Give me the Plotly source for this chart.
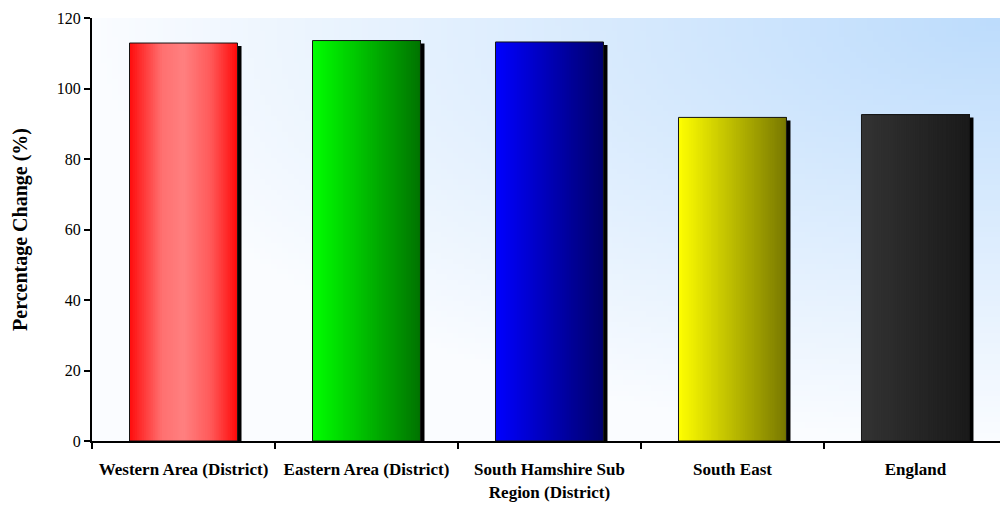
import base64
import struct
import zlib

import plotly.graph_objects as go

# ---- data -------------------------------------------------------------
categories = [
    "Western Area (District)",
    "Eastern Area (District)",
    "South Hamshire Sub<br>Region (District)",
    "South East",
    "England",
]
values = [112.9, 113.6, 113.2, 91.8, 92.6]
y_ticks = [0, 20, 40, 60, 80, 100, 120]

# horizontal colour ramps for each bar (position across bar, colour)
bar_gradients = [
    [(0.0, "#ff0c0c"), (0.3, "#ff7070"), (0.5, "#ff8080"), (0.75, "#ff5a5a"), (1.0, "#ff0a0a")],
    [(0.0, "#00ff00"), (1.0, "#007400")],
    [(0.0, "#0000ff"), (1.0, "#00006c")],
    [(0.0, "#ffff00"), (1.0, "#787800")],
    [(0.0, "#333333"), (1.0, "#1a1a1a")],
]

FONT = "Liberation Serif"
BAR_W = 0.59          # bar width in category units
N_STRIPS = 60         # slices used to paint the gradient
SHADOW_DX = 0.022     # shadow shift to the right (category units)
SHADOW_DY = 0.85      # shadow drop below the bar top (value units)


def hex_rgb(h):
    h = h.lstrip("#")
    return tuple(int(h[i:i + 2], 16) for i in (0, 2, 4))


def ramp(stops, t):
    for (t0, c0), (t1, c1) in zip(stops[:-1], stops[1:]):
        if t <= t1:
            a = 0.0 if t1 == t0 else (t - t0) / (t1 - t0)
            r0, g0, b0 = hex_rgb(c0)
            r1, g1, b1 = hex_rgb(c1)
            return "rgb(%d,%d,%d)" % (
                round(r0 + (r1 - r0) * a),
                round(g0 + (g1 - g0) * a),
                round(b0 + (b1 - b0) * a),
            )
    return stops[-1][1]


def background_png(w=160, h=80):
    """Soft blue glow from the upper-right corner of the plot area."""
    lo = (250, 252, 255)
    hi = (189, 220, 252)
    rows = []
    for j in range(h):
        v = 1 - j / (h - 1)          # 1 at top
        row = bytearray([0])
        for i in range(w):
            u = i / (w - 1)          # 1 at right
            d = ((1 - u) ** 2 + (1 - v) ** 2) ** 0.5
            f = max(0.0, min(1.0, 1 - d))
            row += bytes(round(lo[k] + (hi[k] - lo[k]) * f) for k in range(3))
        rows.append(bytes(row))
    raw = b"".join(rows)

    def chunk(tag, data):
        c = struct.pack(">I", len(data)) + tag + data
        return c + struct.pack(">I", zlib.crc32(tag + data) & 0xFFFFFFFF)

    png = b"\x89PNG\r\n\x1a\n"
    png += chunk(b"IHDR", struct.pack(">IIBBBBB", w, h, 8, 2, 0, 0, 0))
    png += chunk(b"IDAT", zlib.compress(raw, 9))
    png += chunk(b"IEND", b"")
    return "data:image/png;base64," + base64.b64encode(png).decode()


fig = go.Figure()

# drop shadows
fig.add_trace(go.Bar(
    x=categories,
    y=[v - SHADOW_DY for v in values],
    width=BAR_W,
    offset=-BAR_W / 2 + SHADOW_DX,
    marker=dict(color="black", line=dict(width=0)),
    hoverinfo="skip",
))

# gradient fill, painted as overlapping slices from left to right
step = BAR_W / N_STRIPS
for i in range(N_STRIPS):
    t = (i + 0.5) / N_STRIPS
    fig.add_trace(go.Bar(
        x=categories,
        y=values,
        width=BAR_W - i * step,
        offset=-BAR_W / 2 + i * step,
        marker=dict(color=[ramp(g, t) for g in bar_gradients], line=dict(width=0)),
        hoverinfo="skip",
    ))

# outline
fig.add_trace(go.Bar(
    x=categories,
    y=values,
    width=BAR_W,
    offset=-BAR_W / 2,
    marker=dict(color="rgba(0,0,0,0)", line=dict(color="#151515", width=1)),
    hovertemplate="%{x}: %{y}%<extra></extra>",
))

fig.update_layout(
    width=1000,
    height=505,
    margin=dict(l=92, r=0, t=18, b=64),
    barmode="overlay",
    showlegend=False,
    paper_bgcolor="white",
    plot_bgcolor="rgba(0,0,0,0)",
    font=dict(family=FONT, color="black"),
    images=[dict(
        source=background_png(),
        xref="paper", yref="paper",
        x=0, y=1, sizex=1, sizey=1,
        sizing="stretch", layer="below",
        xanchor="left", yanchor="top",
    )],
)

fig.update_xaxes(
    type="category",
    range=[-0.5, 4.462],
    tickson="boundaries",
    ticks="outside",
    ticklen=6,
    tickwidth=2,
    tickcolor="black",
    showline=True,
    linewidth=2,
    linecolor="black",
    showgrid=False,
    ticklabelstandoff=12,
    tickfont=dict(family=FONT, size=17, color="black", weight="bold"),
)

fig.update_yaxes(
    range=[0, 120],
    tickvals=y_ticks,
    ticks="outside",
    ticklen=6,
    tickwidth=2,
    tickcolor="black",
    showline=True,
    linewidth=2,
    linecolor="black",
    showgrid=False,
    zeroline=False,
    tickfont=dict(family=FONT, size=16, color="black"),
    title=dict(
        text="Percentage Change (%)",
        font=dict(family=FONT, size=20, color="black", weight="bold"),
        standoff=24,
    ),
)

fig.write_html("out.html")
